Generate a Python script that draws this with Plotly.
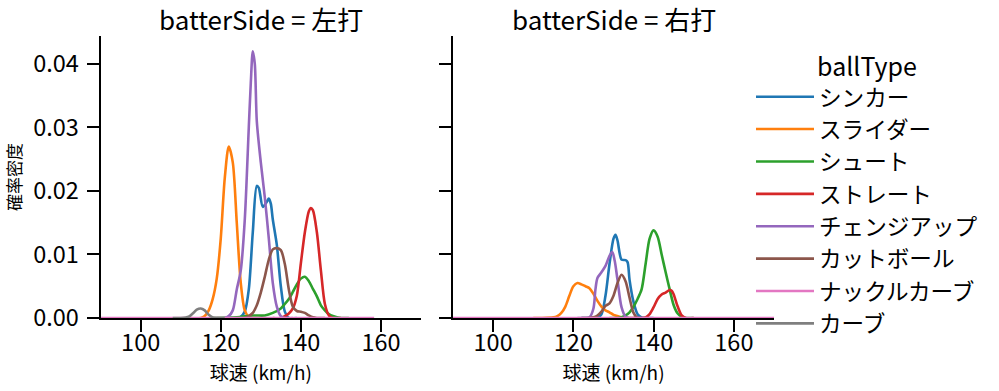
import plotly.graph_objects as go

# ---------------- data ----------------
ball_types = ["シンカー", "スライダー", "シュート", "ストレート", "チェンジアップ",
              "カットボール", "ナックルカーブ", "カーブ"]
colors = ["#1f77b4", "#ff7f0e", "#2ca02c", "#d62728", "#9467bd",
          "#8c564b", "#e377c2", "#7f7f7f"]
panels = ["左打", "右打"]
x_ticks = [100, 120, 140, 160]
y_ticks = [0.00, 0.01, 0.02, 0.03, 0.04]

# ---- 左打 (left-handed batters) ----
L_sinker_x = [122, 124, 125, 126, 127, 128, 129, 129.5, 130.5, 131.5, 132, 132.5, 133, 134, 135, 136, 137, 139]
L_sinker_y = [0, 0, 0.0002, 0.001, 0.0045, 0.0135, 0.0208, 0.0205, 0.0175, 0.0183, 0.0188, 0.018, 0.0155, 0.0115, 0.005, 0.001, 0, 0]
L_slider_x = [112, 115, 116, 117, 118, 119, 120, 121, 122, 123, 124, 125, 126, 127, 128, 130]
L_slider_y = [0, 0, 0.0003, 0.0012, 0.003, 0.0062, 0.0125, 0.022, 0.027, 0.0245, 0.015, 0.0055, 0.0012, 0.0002, 0, 0]
L_shoot_x = [118, 124, 128, 131, 133, 135, 136, 137, 138, 139, 140, 141, 142, 143, 144, 145, 146, 147, 148, 150, 152]
L_shoot_y = [0, 0.0001, 0.0004, 0.0004, 0.0008, 0.0015, 0.0022, 0.003, 0.0041, 0.0053, 0.0062, 0.0065, 0.0058, 0.0046, 0.0034, 0.002, 0.0012, 0.0006, 0.0003, 0, 0]
L_straight_x = [133, 135, 136, 137, 138, 139, 140, 141, 142, 142.5, 143, 144, 145, 146, 147, 148, 150]
L_straight_y = [0, 0, 0.0003, 0.0007, 0.0015, 0.0035, 0.0086, 0.0135, 0.0168, 0.0173, 0.017, 0.0135, 0.0075, 0.0022, 0.0004, 0, 0]
L_change_x = [119, 121, 122, 123, 124, 125, 126, 127, 127.5, 128, 128.5, 129, 130, 131, 132, 133, 134, 135, 136, 138]
L_change_y = [0, 0, 0.0003, 0.0012, 0.0045, 0.0075, 0.0155, 0.030, 0.037, 0.042, 0.040, 0.031, 0.0245, 0.019, 0.0125, 0.0055, 0.0018, 0.0003, 0, 0]
L_cutter_x = [124, 126, 127, 128, 129, 130, 131, 132, 133, 134, 135, 136, 137, 138, 139, 140, 141, 142, 143, 144, 146]
L_cutter_y = [0, 0, 0.0003, 0.0008, 0.002, 0.004, 0.0065, 0.0092, 0.0108, 0.011, 0.0107, 0.0085, 0.0045, 0.0018, 0.0011, 0.001, 0.0008, 0.0004, 0.0001, 0, 0]
L_knuckle_x = [90, 158.3]
L_knuckle_y = [0, 0]
L_curve_x = [108, 110, 112, 113, 114, 115, 116, 117, 118, 119, 121]
L_curve_y = [0, 0, 0.0002, 0.0007, 0.0013, 0.0015, 0.0012, 0.0005, 0.0001, 0, 0]

# ---- 右打 (right-handed batters) ----
R_sinker_x = [122, 125, 126, 127, 128, 129, 130, 130.5, 131, 132, 133, 133.5, 134, 135, 136, 137, 138, 140]
R_sinker_y = [0, 0, 0.0001, 0.0006, 0.0035, 0.0085, 0.0125, 0.0131, 0.0122, 0.0092, 0.0091, 0.0088, 0.006, 0.0025, 0.0006, 0.0001, 0, 0]
R_slider_x = [110, 112, 115, 116, 117, 118, 119, 120, 121, 122, 123, 124, 125, 126, 127, 128, 129, 130, 131, 132, 134, 136]
R_slider_y = [0, 0, 0.0001, 0.0003, 0.0008, 0.0018, 0.0035, 0.005, 0.0055, 0.0053, 0.005, 0.0047, 0.0038, 0.0027, 0.0018, 0.0012, 0.0009, 0.0005, 0.0003, 0.0001, 0, 0]
R_shoot_x = [129, 131, 132, 133, 134, 135, 136, 137, 138, 139, 140, 141, 142, 143, 144, 145, 146, 147, 148, 150]
R_shoot_y = [0, 0, 0.0001, 0.0004, 0.0009, 0.0018, 0.003, 0.0045, 0.0085, 0.0125, 0.0138, 0.0128, 0.01, 0.0072, 0.0045, 0.002, 0.0007, 0.0002, 0, 0]
R_straight_x = [135, 137, 138, 139, 140, 141, 142, 143, 144, 144.5, 145, 146, 147, 148, 150]
R_straight_y = [0, 0, 0.0001, 0.0006, 0.0017, 0.003, 0.0037, 0.004, 0.0044, 0.0043, 0.0037, 0.0018, 0.0004, 0, 0]
R_change_x = [121, 123, 124, 125, 125.5, 126, 127, 128, 129, 129.7, 130.3, 131, 132, 133, 134, 136]
R_change_y = [0, 0, 0.0001, 0.0015, 0.0045, 0.0063, 0.0072, 0.0082, 0.0098, 0.0104, 0.009, 0.006, 0.0017, 0.0002, 0, 0]
R_cutter_x = [122, 124, 125, 126, 127, 128, 129, 130, 131, 132, 133, 134, 135, 136, 138]
R_cutter_y = [0, 0, 0.0001, 0.0004, 0.001, 0.0019, 0.0023, 0.0035, 0.0055, 0.0068, 0.0058, 0.0032, 0.0008, 0, 0]
R_knuckle_x = [90, 172]
R_knuckle_y = [0, 0]

left_data = [(L_sinker_x, L_sinker_y), (L_slider_x, L_slider_y), (L_shoot_x, L_shoot_y),
             (L_straight_x, L_straight_y), (L_change_x, L_change_y), (L_cutter_x, L_cutter_y),
             (L_knuckle_x, L_knuckle_y), (L_curve_x, L_curve_y)]
right_data = [(R_sinker_x, R_sinker_y), (R_slider_x, R_slider_y), (R_shoot_x, R_shoot_y),
              (R_straight_x, R_straight_y), (R_change_x, R_change_y), (R_cutter_x, R_cutter_y),
              (R_knuckle_x, R_knuckle_y), None]

# ---------------- figure ----------------
FONT = "Noto Sans CJK JP"
W, H = 999, 391
fig = go.Figure()

for i, name in enumerate(ball_types):
    for p, (data, xa, ya) in enumerate([(left_data, "x", "y"), (right_data, "x2", "y2")]):
        d = data[i]
        if d is None:
            continue
        fig.add_trace(go.Scatter(
            x=d[0], y=d[1], mode="lines", name=name, legendgroup=name,
            showlegend=(p == 0), xaxis=xa, yaxis=ya,
            line=dict(color=colors[i], width=2.6, shape="spline", smoothing=0.8),
            hoverinfo="x+y+name"))


def px_x(v):
    return v / W


def px_y(v):
    return (H - v) / H


axis_common = dict(
    showgrid=False, zeroline=False, showline=True, linecolor="black", linewidth=2,
    ticks="outside", ticklen=12, tickwidth=2, tickcolor="black", automargin=False,
    tickfont=dict(family=FONT, size=23.5, color="black"),
)

x_common = dict(range=[90, 170], tickvals=x_ticks, ticktext=[str(t) for t in x_ticks],
                ticklabelstandoff=-9,
                title=dict(text="球速 (km/h)", font=dict(family=FONT, size=19), standoff=0),
                **axis_common)

fig.update_layout(
    width=W, height=H,
    margin=dict(l=0, r=0, t=0, b=0, autoexpand=False),
    paper_bgcolor="white", plot_bgcolor="white",
    font=dict(family=FONT, color="black"),
    xaxis=dict(domain=[px_x(100.6), px_x(421)], anchor="y", **x_common),
    xaxis2=dict(domain=[px_x(453), px_x(774)], anchor="y2", **x_common),
    yaxis=dict(domain=[px_y(318), px_y(36)], range=[0, 0.0444], anchor="x",
               tickvals=y_ticks, ticktext=[f"{t:.2f}" for t in y_ticks],
               ticklabelstandoff=3,
               title=dict(text="確率密度", font=dict(family=FONT, size=17), standoff=7),
               **axis_common),
    yaxis2=dict(domain=[px_y(318), px_y(36)], range=[0, 0.0444], anchor="x2",
                matches="y", tickvals=y_ticks, showticklabels=False,
                **axis_common),
    legend=dict(
        title=dict(text="ballType", font=dict(family=FONT, size=25), side="top center"),
        font=dict(family=FONT, size=22.6, color="black"),
        x=px_x(751), xanchor="left", y=px_y(43), yanchor="top",
        bgcolor="rgba(0,0,0,0)", borderwidth=0, tracegroupgap=0,
        itemwidth=58,
    ),
    showlegend=True,
)

for p, label in enumerate(panels):
    cx = [261, 613.5][p]
    fig.add_annotation(text=f"batterSide = {label}", x=px_x(cx), y=px_y(19),
                       xref="paper", yref="paper", showarrow=False,
                       xanchor="center", yanchor="middle",
                       font=dict(family=FONT, size=26, color="black"))

fig.write_html("out.html", config={"displayModeBar": False},
               post_script="document.body.style.margin='0';document.body.style.padding='0';")
